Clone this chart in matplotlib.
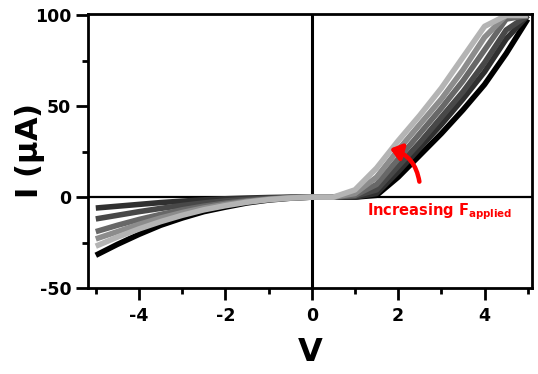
import numpy as np
import matplotlib
matplotlib.use('Agg')
import matplotlib.pyplot as plt
from matplotlib.ticker import MultipleLocator

# bias voltage grid [V]
volts = [-5.0, -4.5, -4.0, -3.5, -3.0, -2.5, -2.0, -1.5, -1.0, -0.5, 0.0,
         0.5, 1.0, 1.5, 2.0, 2.5, 3.0, 3.5, 4.0, 4.5, 5.0]

# current [uA] for each applied force (compliance at 100)
i_black = [-32, -26, -20.5, -15.5, -11.5, -8, -5.5, -3.2, -1.6, -0.6, 0,
           0, 0, 1, 11, 23, 35, 48, 62, 79, 98]
i_dark1 = [-6, -5, -4, -3, -2.2, -1.5, -0.9, -0.5, -0.2, 0, 0,
           0, 0, 2, 14, 27, 40, 54, 69, 87, 100]
i_dark2 = [-12, -10, -8, -6.2, -4.6, -3.2, -2.1, -1.2, -0.6, -0.2, 0,
           0, 0.5, 4, 17, 30, 44, 58, 74, 92, 100]
i_mid = [-19, -15.5, -12.3, -9.5, -7, -5, -3.3, -2, -1, -0.3, 0,
         0, 1, 7, 21, 35, 49, 64, 81, 98, 100]
i_light1 = [-23, -19, -15, -11.5, -8.5, -6, -4, -2.4, -1.2, -0.4, 0,
            0, 2, 11, 26, 40, 54, 70, 88, 100, 100]
i_light2 = [-27, -22, -17.5, -13.5, -10, -7, -4.7, -2.8, -1.4, -0.5, 0,
            0, 4, 16, 31, 45, 60, 77, 94, 100, 100]

curves = [i_black, i_dark1, i_dark2, i_mid, i_light1, i_light2]
shades = ['#000000', '#303030', '#484848', '#686868', '#8c8c8c', '#b4b4b4']

plt.rcParams['font.family'] = 'DejaVu Sans'
plt.rcParams['font.weight'] = 'bold'
plt.rcParams['axes.unicode_minus'] = False

fig = plt.figure(figsize=(5.38, 3.74), dpi=100)
ax = fig.add_axes([0.1636, 0.23, 0.8254, 0.7326])

ax.axhline(0, color='k', lw=1.6, zorder=1)
ax.axvline(0, color='k', lw=2.2, zorder=1)

for cur, col in zip(curves, shades):
    ax.plot(volts, np.minimum(cur, 100), color=col, lw=4,
            solid_capstyle='butt', zorder=2)

# red curved arrow and label
ax.annotate('', xy=(1.75, 27), xytext=(2.5, 7),
            arrowprops=dict(arrowstyle='-|>,head_width=0.5,head_length=0.65',
                            color='red', lw=3.2,
                            connectionstyle='arc3,rad=0.35'), zorder=5)
ax.text(1.28, -8, r'Increasing F$_{\mathbf{applied}}$', color='red',
        fontsize=10.5, fontweight='bold', va='center', ha='left')

ax.set_xlim(-5.18, 5.1)
ax.set_ylim(-50, 100.8)
ax.xaxis.set_major_locator(MultipleLocator(2))
ax.xaxis.set_minor_locator(MultipleLocator(1))
ax.yaxis.set_major_locator(MultipleLocator(50))
ax.yaxis.set_minor_locator(MultipleLocator(25))

ax.tick_params(which='major', length=8.5, width=2, labelsize=12.5)
ax.tick_params(axis='x', which='major', pad=5)
ax.tick_params(which='minor', length=4.5, width=2)
for s in ax.spines.values():
    s.set_linewidth(2)

ax.set_xlabel('V', fontsize=23, fontweight='bold', labelpad=9)
ax.set_ylabel(r'I ($\mathbf{\mu}$A)', fontsize=22, fontweight='bold',
              labelpad=-9)

fig.savefig('out.png', dpi=100)
